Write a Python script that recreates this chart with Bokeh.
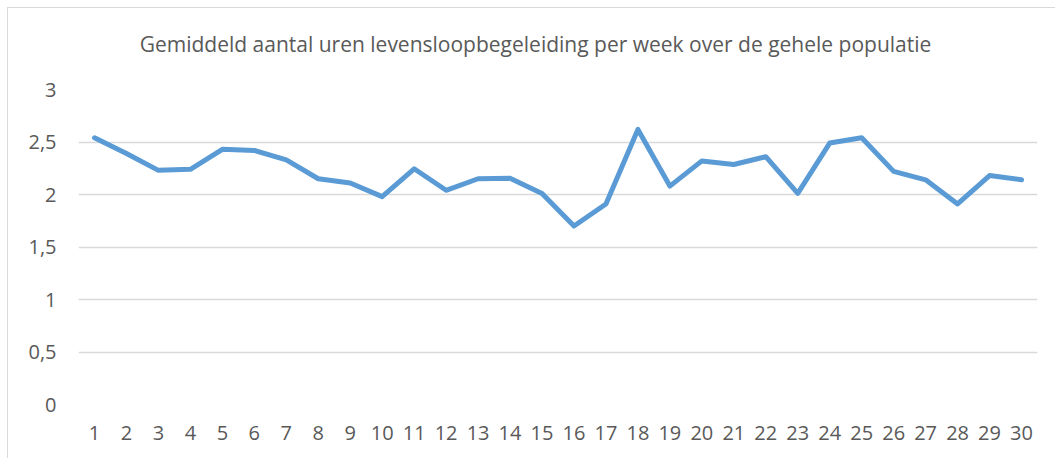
from bokeh.plotting import figure
from bokeh.models import Label, FactorRange, Range1d, FixedTicker, CustomJSTickFormatter
from bokeh.embed import file_html
from bokeh.resources import INLINE

title_text = "Gemiddeld aantal uren levensloopbegeleiding per week over de gehele populatie"
weeks = [str(i) for i in range(1, 31)]
hours = [2.54, 2.39, 2.23, 2.24, 2.43, 2.42, 2.33, 2.15, 2.11, 1.98,
         2.245, 2.04, 2.15, 2.155, 2.01, 1.70, 1.91, 2.62, 2.08, 2.32,
         2.286, 2.36, 2.01, 2.49, 2.54, 2.22, 2.14, 1.91, 2.18, 2.14]
y_ticks = [0, 0.5, 1, 1.5, 2, 2.5, 3]

TEXT = "#595959"
GRID = "#D9D9D9"
FONT = "Open Sans"

p = figure(width=1048, height=451, x_range=FactorRange(*weeks), y_range=Range1d(0, 3),
           output_backend="svg", toolbar_location=None, title=None,
           min_border_left=70, min_border_right=19, min_border_top=81, min_border_bottom=55)
p.margin = (7, 0, 0, 7)
p.styles = {"border-top": "1px solid #D9D9D9", "border-left": "1px solid #D9D9D9"}

# chart title, placed in canvas units
p.add_layout(Label(x=526, y=34, x_units="canvas", y_units="canvas", text=title_text,
                   text_align="center", text_baseline="alphabetic", text_font=FONT,
                   text_font_size="21px", text_color=TEXT), "above")

p.line(x=weeks, y=hours, line_color="#5B9BD5", line_width=5, line_join="round", line_cap="round")

p.outline_line_color = None
p.background_fill_color = "white"
p.border_fill_color = "white"
p.xgrid.grid_line_color = None
p.ygrid.grid_line_color = GRID
p.ygrid.grid_line_width = 1.5

p.yaxis.ticker = FixedTicker(ticks=y_ticks)
p.yaxis.formatter = CustomJSTickFormatter(code="return String(tick).replace('.', ',');")
for ax in (p.xaxis[0], p.yaxis[0]):
    ax.axis_line_color = None
    ax.major_tick_line_color = None
    ax.minor_tick_line_color = None
    ax.major_tick_in = 0
    ax.major_tick_out = 0
    ax.major_label_text_font = FONT
    ax.major_label_text_font_size = "20px"
    ax.major_label_text_color = TEXT
p.xaxis.major_label_standoff = 21
p.yaxis.major_label_standoff = 22

open("out.html", "w").write(file_html(p, INLINE))
